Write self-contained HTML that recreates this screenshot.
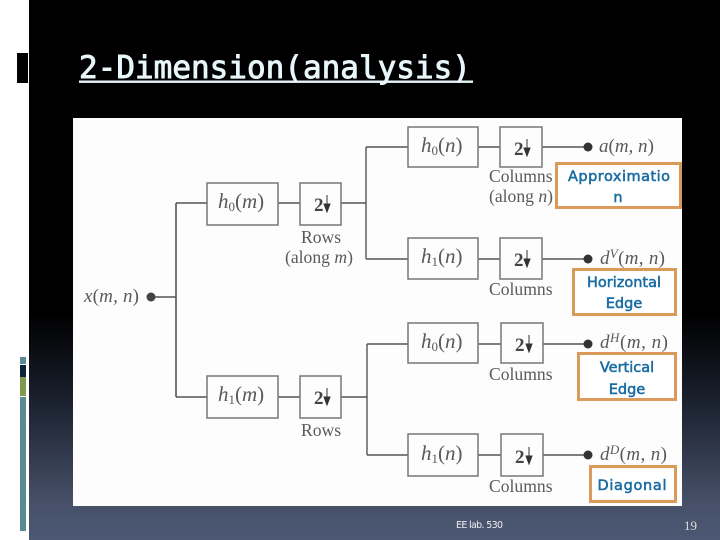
<!DOCTYPE html>
<html><head><meta charset="utf-8"><style>
html,body{margin:0;padding:0;background:#fff}
svg{display:block}
.s{font-family:"Liberation Serif",serif;fill:#5a5a5a;font-size:17.6px}
.m{font-family:"Liberation Serif",serif;font-style:italic;fill:#5a5a5a;font-size:19px}
.h{font-size:21px}
.t{font-family:"DejaVu Sans",sans-serif;fill:#1a6da3;font-size:14.5px;stroke:#1a6da3;stroke-width:.55px;text-anchor:middle}
.b{fill:none;stroke:#777;stroke-width:1.5}
.l{stroke:#555;stroke-width:1.4;fill:none}
.two{font-family:"Liberation Serif",serif;font-weight:bold;fill:#444;font-size:19px}
</style></head><body>
<svg width="720" height="540" viewBox="0 0 720 540" xmlns="http://www.w3.org/2000/svg">
<defs><linearGradient id="g" x1="0" y1="0" x2="0" y2="1">
<stop offset="0" stop-color="#000"/><stop offset=".58" stop-color="#000"/><stop offset=".75" stop-color="#1c2230"/><stop offset=".93" stop-color="#465068"/><stop offset="1" stop-color="#4c5874"/></linearGradient></defs>
<rect width="720" height="540" fill="#fff"/>
<rect x="29" width="691" height="540" fill="url(#g)"/>
<rect x="17" y="53" width="11" height="30" fill="#000"/>
<rect x="20" y="357" width="6" height="7" fill="#5a8a92"/>
<rect x="20" y="365" width="6" height="12" fill="#0c2238"/>
<rect x="20" y="377" width="6" height="19" fill="#80984f"/>
<rect x="20" y="397" width="6" height="134" fill="#5a8a92"/>
<text x="79" y="78" font-family="'DejaVu Sans Mono',monospace" font-size="31" fill="#e8f6fa" stroke="#e8f6fa" stroke-width=".9">2-Dimension(analysis)</text>
<rect x="79" y="80.5" width="394" height="2.4" fill="#e8f6fa"/>
<rect x="73" y="118" width="609" height="388" fill="#fdfdfd"/>

<path class="l" d="M151 297H176M176 203V397" style="stroke-width:1.6"/>
<path class="l" d="M176 203H207M278 203H300M341 203H366M176 397H207M278 397H300M341 397H367"/>
<path class="l" d="M366 147V259M366 147H408M478 147H500M542 147H588M366 259H408M478 259H500M542 259H588"/>
<path class="l" d="M367 344V455M367 344H408M478 344H501M543 344H588M367 455H408M478 455H501M543 455H588"/>

<rect class="b" x="207" y="183" width="71" height="42"/>
<rect class="b" x="300" y="183" width="41" height="42"/>
<rect class="b" x="207" y="376" width="71" height="42"/>
<rect class="b" x="300" y="376" width="41" height="42"/>
<rect class="b" x="408" y="127" width="70" height="40"/>
<rect class="b" x="500" y="127" width="42" height="40"/>
<rect class="b" x="408" y="238" width="70" height="41"/>
<rect class="b" x="500" y="238" width="42" height="41"/>
<rect class="b" x="408" y="323" width="70" height="40"/>
<rect class="b" x="501" y="323" width="42" height="40"/>
<rect class="b" x="408" y="434" width="70" height="42"/>
<rect class="b" x="501" y="434" width="42" height="42"/>

<circle cx="151" cy="297" r="4.5" fill="#444"/>
<circle cx="588" cy="147" r="4.5" fill="#333"/>
<circle cx="588" cy="259" r="4.5" fill="#333"/>
<circle cx="588" cy="344" r="4.5" fill="#333"/>
<circle cx="588" cy="455" r="4.5" fill="#333"/>

<text class="m h" x="218" y="208">h<tspan font-size="13" dy="3" font-style="normal">0</tspan><tspan dy="-3" font-style="normal">(</tspan>m<tspan font-style="normal">)</tspan></text>
<text class="m h" x="218" y="401">h<tspan font-size="13" dy="3" font-style="normal">1</tspan><tspan dy="-3" font-style="normal">(</tspan>m<tspan font-style="normal">)</tspan></text>
<text class="m h" x="421" y="152">h<tspan font-size="13" dy="3" font-style="normal">0</tspan><tspan dy="-3" font-style="normal">(</tspan>n<tspan font-style="normal">)</tspan></text>
<text class="m h" x="421" y="263">h<tspan font-size="13" dy="3" font-style="normal">1</tspan><tspan dy="-3" font-style="normal">(</tspan>n<tspan font-style="normal">)</tspan></text>
<text class="m h" x="421" y="348">h<tspan font-size="13" dy="3" font-style="normal">0</tspan><tspan dy="-3" font-style="normal">(</tspan>n<tspan font-style="normal">)</tspan></text>
<text class="m h" x="421" y="460">h<tspan font-size="13" dy="3" font-style="normal">1</tspan><tspan dy="-3" font-style="normal">(</tspan>n<tspan font-style="normal">)</tspan></text>

<g>
<text class="two" x="314" y="211">2</text><path d="M327 195V205M324 204H330L327 212Z" fill="#333" stroke="#333"/>
<text class="two" x="314" y="404">2</text><path d="M327 388V398M324 397H330L327 405Z" fill="#333" stroke="#333"/>
<text class="two" x="514" y="155">2</text><path d="M527 139V149M524 148H530L527 156Z" fill="#333" stroke="#333"/>
<text class="two" x="514" y="266">2</text><path d="M527 250V260M524 259H530L527 267Z" fill="#333" stroke="#333"/>
<text class="two" x="515" y="351">2</text><path d="M529 335V345M526 344H532L529 352Z" fill="#333" stroke="#333"/>
<text class="two" x="515" y="463">2</text><path d="M529 447V457M526 456H532L529 464Z" fill="#333" stroke="#333"/>
</g>

<text class="s" x="301" y="243">Rows</text>
<text class="s" x="285" y="263">(along <tspan font-style="italic">m</tspan>)</text>
<text class="s" x="301" y="436">Rows</text>
<text class="s" x="489" y="182">Columns</text>
<text class="s" x="489" y="202">(along <tspan font-style="italic">n</tspan>)</text>
<text class="s" x="489" y="295">Columns</text>
<text class="s" x="489" y="380">Columns</text>
<text class="s" x="489" y="492">Columns</text>

<text class="m" x="84" y="302" textLength="55">x<tspan font-style="normal">(</tspan>m, n<tspan font-style="normal">)</tspan></text>
<text class="m" x="599" y="152">a<tspan font-style="normal">(</tspan>m, n<tspan font-style="normal">)</tspan></text>
<text class="m" x="600" y="264" textLength="65">d<tspan font-size="13" dy="-6">V</tspan><tspan dy="6" font-style="normal">(</tspan>m, n<tspan font-style="normal">)</tspan></text>
<text class="m" x="600" y="348" textLength="68">d<tspan font-size="13" dy="-6">H</tspan><tspan dy="6" font-style="normal">(</tspan>m, n<tspan font-style="normal">)</tspan></text>
<text class="m" x="600" y="460" textLength="67">d<tspan font-size="13" dy="-6">D</tspan><tspan dy="6" font-style="normal">(</tspan>m, n<tspan font-style="normal">)</tspan></text>

<g fill="#fff" stroke="#d99a5b" stroke-width="3">
<rect x="556.5" y="163.5" width="124" height="44"/>
<rect x="573.5" y="269.5" width="102" height="45"/>
<rect x="578.5" y="353.5" width="97" height="46"/>
<rect x="590.5" y="466.5" width="85" height="35"/>
</g>
<text class="t" x="619" y="181" textLength="102" lengthAdjust="spacing">Approximatio</text>
<text class="t" x="618" y="202">n</text>
<text class="t" x="624" y="287">Horizontal</text>
<text class="t" x="624" y="308">Edge</text>
<text class="t" x="627" y="372">Vertical</text>
<text class="t" x="627" y="394">Edge</text>
<text class="t" x="632" y="490" textLength="69" lengthAdjust="spacing">Diagonal</text>

<text x="456" y="528" font-family="'DejaVu Sans',sans-serif" font-size="9.5" fill="#f0f0f0" textLength="47">EE lab. 530</text>
<text x="684" y="530" font-family="'Liberation Serif',serif" font-size="13" fill="#ddd">19</text>
</svg>
</body></html>
